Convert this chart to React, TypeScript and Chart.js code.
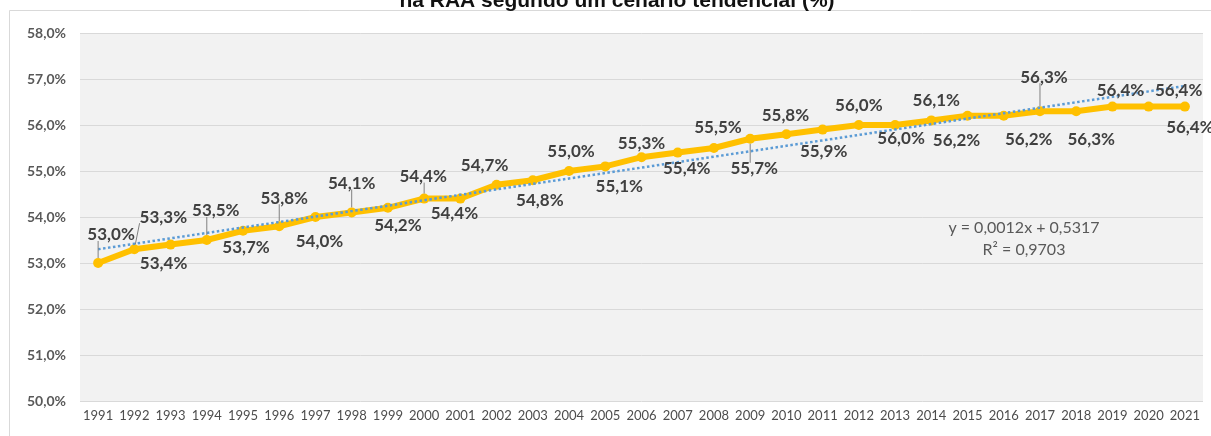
import { useEffect, useRef } from 'react';
import { Chart, registerables } from 'chart.js';

Chart.register(...registerables);

const years: string[] = [
  '1991', '1992', '1993', '1994', '1995', '1996', '1997', '1998', '1999', '2000',
  '2001', '2002', '2003', '2004', '2005', '2006', '2007', '2008', '2009', '2010',
  '2011', '2012', '2013', '2014', '2015', '2016', '2017', '2018', '2019', '2020', '2021',
];

const shareValues: number[] = [
  53.0, 53.3, 53.4, 53.5, 53.7, 53.8, 54.0, 54.1, 54.2, 54.4,
  54.4, 54.7, 54.8, 55.0, 55.1, 55.3, 55.4, 55.5, 55.7, 55.8,
  55.9, 56.0, 56.0, 56.1, 56.2, 56.2, 56.3, 56.3, 56.4, 56.4, 56.4,
];

const Y_MIN = 50;
const Y_MAX = 58;
const Y_STEP = 1;

const titleText = 'na RAA segundo um cenário tendencial (%)';
const equationLines: string[] = ['y = 0,0012x + 0,5317', 'R² = 0,9703'];

// label placement relative to each point (layout only)
const labelOffsets: [number, number][] = [
  [13, -28], [29, -32], [-7, 19], [9, -29], [3, 17], [5, -28], [4, 25], [0, -29], [10, 18], [-1, -22],
  [-6, 15], [-12, -19], [7, 20], [2, -19], [14, 20], [0, -14], [9, 16], [4, -20], [4, 30], [-1, -19],
  [1, 22], [0, -19], [6, 14], [5, -20], [-11, 25], [25, 24], [4, -34], [15, 28], [8, -16], [30, -16], [5, 21],
];
const leaderIdx: number[] = [0, 1, 3, 5, 7, 9, 18, 26];

const fmt = (v: number) => v.toFixed(1).replace('.', ',') + '%';

function linearTrend(vals: number[]): number[] {
  const n = vals.length;
  let sx = 0, sy = 0, sxx = 0, sxy = 0;
  for (let i = 0; i < n; i++) {
    const x = i + 1;
    sx += x; sy += vals[i]; sxx += x * x; sxy += x * vals[i];
  }
  const b = (n * sxy - sx * sy) / (n * sxx - sx * sx);
  const a = (sy - b * sx) / n;
  return vals.map((_, i) => a + b * (i + 1));
}

const trendValues = linearTrend(shareValues);

export default function App() {
  const ref = useRef<HTMLCanvasElement | null>(null);

  useEffect(() => {
    if (!ref.current) return;

    const bgPlugin = {
      id: 'bgPlugin',
      beforeDraw(chart: any) {
        const { ctx, chartArea } = chart;
        ctx.save();
        ctx.fillStyle = '#ffffff';
        ctx.fillRect(0, 0, chart.width, chart.height);
        ctx.fillStyle = '#f2f2f2';
        ctx.fillRect(chartArea.left, chartArea.top, chartArea.right - chartArea.left, chartArea.bottom - chartArea.top);
        ctx.strokeStyle = '#d9d9d9';
        ctx.lineWidth = 1;
        ctx.beginPath();
        ctx.moveTo(9.5, chart.height);
        ctx.lineTo(9.5, 10.5);
        ctx.lineTo(chart.width, 10.5);
        ctx.stroke();
        ctx.fillStyle = '#111111';
        ctx.font = 'bold 21px "Liberation Sans", Arial, sans-serif';
        ctx.textAlign = 'center';
        ctx.textBaseline = 'alphabetic';
        ctx.fillText(titleText, 617, 7);
        ctx.restore();
      },
    };

    const labelPlugin = {
      id: 'labelPlugin',
      afterDatasetsDraw(chart: any) {
        const { ctx, chartArea } = chart;
        const meta = chart.getDatasetMeta(0);
        ctx.save();
        ctx.font = 'bold 17px Lato, sans-serif';
        ctx.textAlign = 'center';
        ctx.textBaseline = 'middle';
        meta.data.forEach((pt: any, i: number) => {
          const [dx, dy] = labelOffsets[i] || [0, -20];
          const lx = pt.x + dx;
          const ly = pt.y + dy;
          const text = fmt(shareValues[i]);
          if (leaderIdx.includes(i)) {
            const w = ctx.measureText(text).width;
            const h = 12;
            const bx = Math.max(lx - w / 2, Math.min(pt.x, lx + w / 2));
            const by = Math.max(ly - h / 2, Math.min(pt.y, ly + h / 2));
            const vx = pt.x - bx, vy = pt.y - by;
            const len = Math.hypot(vx, vy) || 1;
            const ex = pt.x - (vx / len) * 5;
            const ey = pt.y - (vy / len) * 5;
            ctx.strokeStyle = '#808080';
            ctx.lineWidth = 1;
            ctx.beginPath();
            ctx.moveTo(bx, by);
            ctx.lineTo(ex, ey);
            ctx.stroke();
          }
          ctx.fillStyle = '#404040';
          ctx.fillText(text, lx, ly);
        });
        // trendline equation
        const w = chartArea.right - chartArea.left;
        const h = chartArea.bottom - chartArea.top;
        ctx.font = '16px Lato, sans-serif';
        ctx.fillStyle = '#595959';
        ctx.fillText(equationLines[0], chartArea.left + 0.8406 * w, chartArea.top + 0.53 * h);
        ctx.fillText(equationLines[1], chartArea.left + 0.8406 * w, chartArea.top + 0.59 * h);
        ctx.restore();
      },
    };

    const chart = new Chart(ref.current, {
      type: 'line',
      data: {
        labels: years,
        datasets: [
          {
            label: 'share',
            data: shareValues,
            borderColor: '#FFC000',
            backgroundColor: '#FFC000',
            pointBackgroundColor: '#FFC000',
            pointBorderColor: '#FFC000',
            borderWidth: 6,
            pointRadius: 5,
            pointBorderWidth: 0,
            tension: 0,
            order: 1,
          },
          {
            label: 'trend',
            data: trendValues,
            borderColor: '#5B9BD5',
            borderWidth: 2.5,
            borderDash: [2.5, 2.5],
            pointRadius: 0,
            tension: 0,
            fill: false,
            order: 0,
          },
        ],
      },
      options: {
        responsive: false,
        animation: false,
        events: [],
        layout: { padding: { top: 33, right: 8, bottom: 0, left: 0 } },
        plugins: {
          legend: { display: false },
          tooltip: { enabled: false },
          title: { display: false },
        },
        scales: {
          x: {
            offset: true,
            grid: { display: false, drawTicks: false },
            border: { display: false },
            ticks: {
              autoSkip: false,
              maxRotation: 0,
              minRotation: 0,
              padding: 7,
              color: '#4d4d4d',
              font: { family: 'Lato', size: 13 },
            },
            afterFit(scale: any) {
              scale.height = 35;
            },
          },
          y: {
            min: Y_MIN,
            max: Y_MAX,
            grid: { color: '#d9d9d9', lineWidth: 1, drawTicks: false },
            border: { display: false },
            ticks: {
              stepSize: Y_STEP,
              padding: 14,
              color: '#595959',
              font: { family: 'Lato', size: 14, weight: 'bold' },
              callback: (v: any) => Number(v).toFixed(1).replace('.', ',') + '%',
            },
            afterFit(scale: any) {
              scale.width = 80;
            },
          },
        },
      },
      plugins: [bgPlugin, labelPlugin],
    } as any);

    return () => chart.destroy();
  }, []);

  return (
    <div style={{ position: 'absolute', left: 0, top: 0, width: 1211, height: 436 }}>
      <canvas ref={ref} width={1211} height={436} style={{ display: 'block' }} />
    </div>
  );
}
